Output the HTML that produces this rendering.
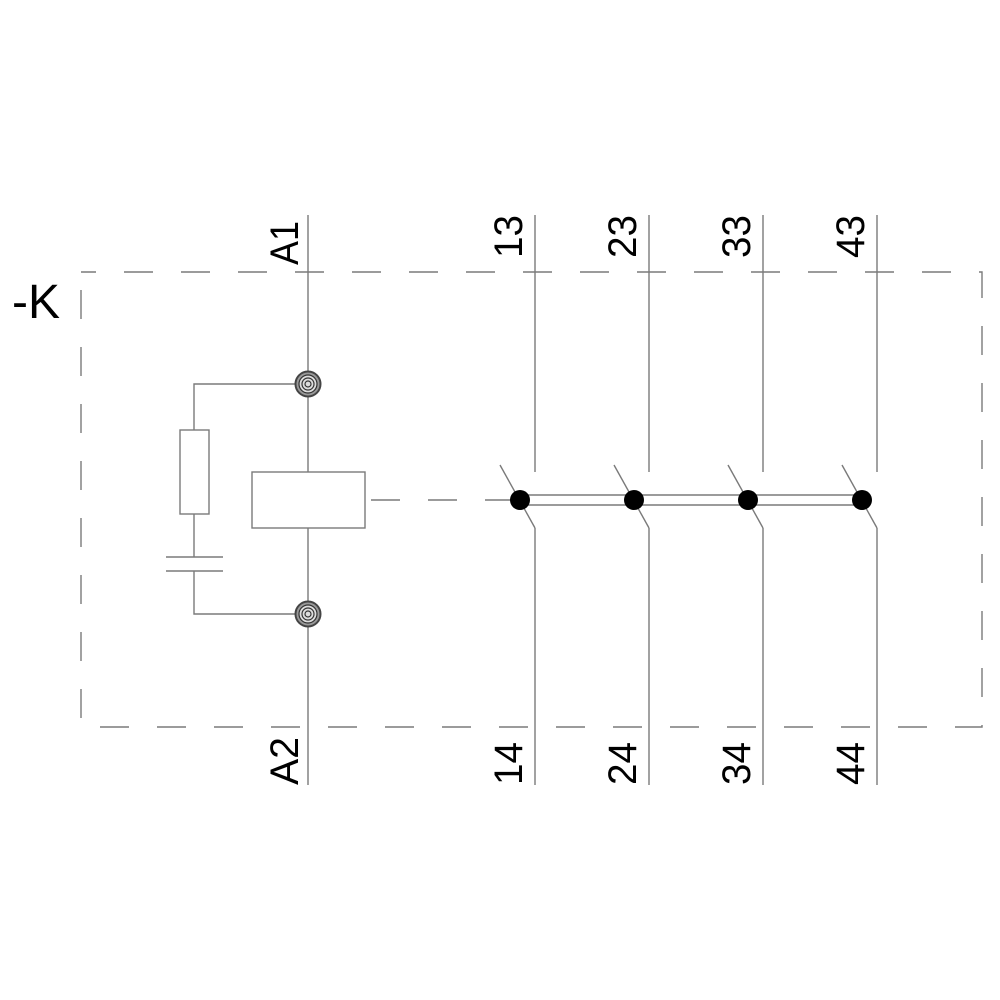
<!DOCTYPE html>
<html><head><style>body{margin:0;background:#fff}svg{display:block}</style></head><body>
<svg width="1000" height="1000" viewBox="0 0 1000 1000" xmlns="http://www.w3.org/2000/svg">
<rect width="1000" height="1000" fill="#fff"/>
<g fill="none" stroke="#7a7a7a" stroke-width="1.4">
<path d="M81 272 H982 V727 H81 Z" stroke-dasharray="29 28" stroke-dashoffset="14"/>
<line x1="308" y1="215" x2="308" y2="472"/>
<line x1="308" y1="528" x2="308" y2="785"/>
<rect x="252" y="472" width="113" height="56"/>
<line x1="365" y1="500" x2="520" y2="500" stroke-dasharray="29 28" stroke-dashoffset="-6"/>
<polyline points="308,384 194,384 194,430"/>
<rect x="180" y="430" width="29" height="84"/>
<polyline points="194,514 194,557"/>
<line x1="166" y1="557" x2="223" y2="557"/>
<line x1="166" y1="571" x2="223" y2="571"/>
<polyline points="194,571 194,614 308,614"/>
<g id="c">
<line x1="535" y1="215" x2="535" y2="472"/>
<line x1="535" y1="528" x2="535" y2="785"/>
<line x1="500" y1="465" x2="535" y2="528"/>
</g>
<use href="#c" x="114"/><use href="#c" x="228"/><use href="#c" x="342"/>
<line x1="520" y1="495" x2="862" y2="495"/>
<line x1="520" y1="505" x2="862" y2="505"/>
</g>
<g fill="#000">
<circle cx="520" cy="500" r="10"/><circle cx="634" cy="500" r="10"/><circle cx="748" cy="500" r="10"/><circle cx="862" cy="500" r="10"/>
</g>
<g stroke="#333" stroke-width="1.2" fill="none">
<circle cx="308" cy="384" r="12.5" fill="#999" stroke="#444" stroke-width="2"/><circle cx="308" cy="384" r="9" fill="#ddd"/><circle cx="308" cy="384" r="6"/><circle cx="308" cy="384" r="3"/>
<circle cx="308" cy="614" r="12.5" fill="#999" stroke="#444" stroke-width="2"/><circle cx="308" cy="614" r="9" fill="#ddd"/><circle cx="308" cy="614" r="6"/><circle cx="308" cy="614" r="3"/>
</g>
<g font-family="Liberation Sans, sans-serif" font-size="40" fill="#000">
<text x="12" y="318" font-size="48">-K</text>
<text transform="translate(298,265) rotate(-90)" textLength="44" lengthAdjust="spacingAndGlyphs">A1</text>
<text transform="translate(298,785) rotate(-90)" textLength="48" lengthAdjust="spacingAndGlyphs">A2</text>
<text transform="translate(522,258) rotate(-90)" textLength="43" lengthAdjust="spacingAndGlyphs">13</text>
<text transform="translate(636,258) rotate(-90)" textLength="43" lengthAdjust="spacingAndGlyphs">23</text>
<text transform="translate(750,258) rotate(-90)" textLength="43" lengthAdjust="spacingAndGlyphs">33</text>
<text transform="translate(864,258) rotate(-90)" textLength="43" lengthAdjust="spacingAndGlyphs">43</text>
<text transform="translate(522,785) rotate(-90)" textLength="43" lengthAdjust="spacingAndGlyphs">14</text>
<text transform="translate(636,785) rotate(-90)" textLength="43" lengthAdjust="spacingAndGlyphs">24</text>
<text transform="translate(750,785) rotate(-90)" textLength="43" lengthAdjust="spacingAndGlyphs">34</text>
<text transform="translate(864,785) rotate(-90)" textLength="43" lengthAdjust="spacingAndGlyphs">44</text>
</g>
</svg>
</body></html>
